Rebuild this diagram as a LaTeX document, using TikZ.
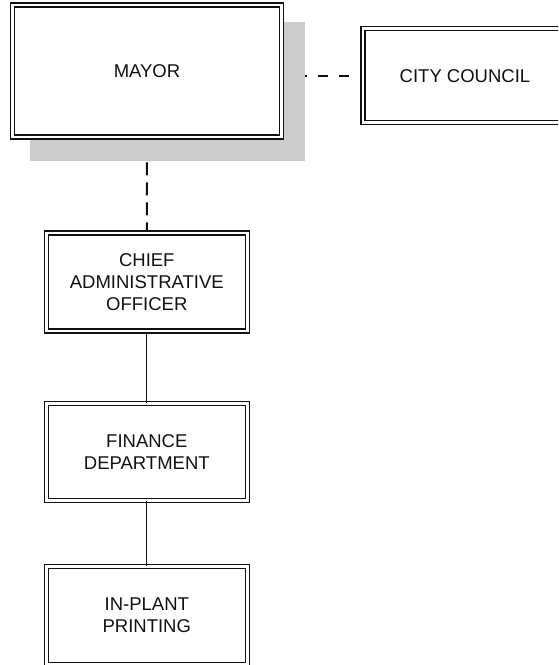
\documentclass[tikz,border=0pt]{standalone}
\usepackage{fontspec}
\setmainfont{Liberation Sans}
\usetikzlibrary{backgrounds}
\definecolor{shadowgray}{HTML}{CCCCCC}
\definecolor{inkblack}{HTML}{111111}
\begin{document}
\begin{tikzpicture}[x=1pt,y=-1pt,
  box/.style={draw=inkblack, double=white, double distance=2.9pt, line width=1.1pt,
    fill=white, rectangle, inner sep=0pt, align=center, text=inkblack,
    font=\fontsize{18.5}{22}\selectfont},
  dashlink/.style={draw=inkblack, line width=1.9pt},
  solidlink/.style={draw=inkblack, line width=1.3pt}]
\useasboundingbox (0,0) rectangle (558,665);
\clip (0,0) rectangle (558,665);
\node[box, minimum width=269pt, minimum height=132pt] (mayor) at (147,71) {MAYOR};
\node[box, minimum width=204pt, minimum height=94pt] (council) at (465,75.8) {CITY COUNCIL};
\node[box, minimum width=201.5pt, minimum height=98pt] (cao) at (146.8,282) {CHIEF\\ADMINISTRATIVE\\OFFICER};
\node[box, minimum width=201.5pt, minimum height=97.5pt] (finance) at (146.8,451.8) {FINANCE\\DEPARTMENT};
\node[box, minimum width=201.5pt, minimum height=97.5pt] (inplant) at (146.8,615.3) {IN-PLANT\\PRINTING};
\begin{pgfonlayer}{background}
  \draw[dashlink, dash pattern=on 10pt off 11pt, dash phase=6.5pt] (council.west -| mayor.east) -- (council.west);
  \draw[dashlink, dash pattern=on 13pt off 7pt, dash phase=15.3pt] (mayor.south) -- (cao.north);
  \fill[shadowgray] ([shift={(18.5,18)}]mayor.north west) rectangle ([shift={(22.5,23)}]mayor.south east);
\end{pgfonlayer}
\draw[solidlink] (cao.south) -- (finance.north);
\draw[solidlink] (finance.south) -- (inplant.north);
\end{tikzpicture}
\end{document}
